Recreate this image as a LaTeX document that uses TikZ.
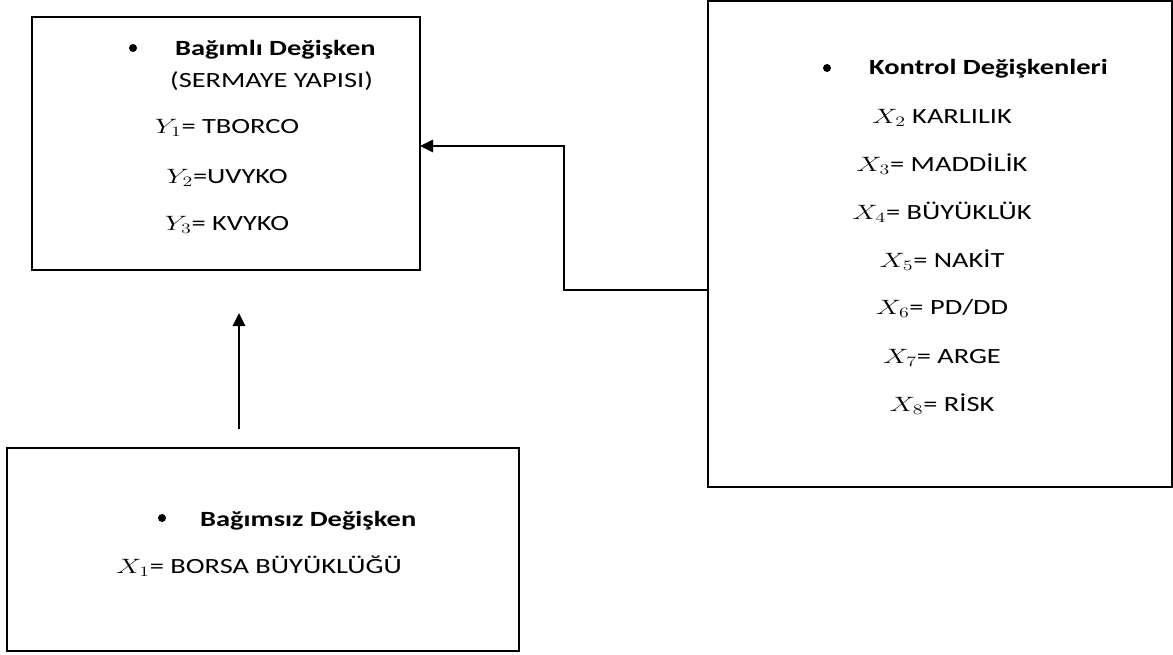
\documentclass[tikz,border=0pt]{standalone}
\usepackage{fontspec}
\setmainfont{Carlito}[FakeStretch=1.31]
\usetikzlibrary{arrows.meta}
\newcommand{\vx}[2]{\scalebox{1.38}[1]{$#1_{#2}$}}
\begin{document}
\begin{tikzpicture}[x=1pt,y=-1pt,
  font=\fontsize{21.7}{26}\selectfont,
  boxnode/.style={draw, line width=2.6pt, inner sep=0pt, outer sep=0pt},
  ctext/.style={inner sep=0pt, anchor=base},
  ltext/.style={inner sep=0pt, anchor=base west},
  bul/.style={circle, fill, inner sep=0pt, minimum size=8pt},
  conn/.style={line width=2.6pt, -{Triangle[length=13pt,width=12pt]}}]
\useasboundingbox (0,0) rectangle (1173,654);

% boxes
\node[boxnode, minimum width=388pt, minimum height=253pt] (b1) at (226,143.5) {};
\node[boxnode, minimum width=512pt, minimum height=203pt] (b2) at (263,549.5) {};
\node[boxnode, minimum width=464pt, minimum height=486pt] (b3) at (940,244) {};

% box 1 content
\node[bul] (b1bul) at (133,48) {};
\node[ltext] (b1h) at (175,55) {\bfseries Bağımlı Değişken};
\node[ltext] (b1s) at (170,87) {(SERMAYE YAPISI)};
\node[ctext] (y1) at (227,133) {\vx{Y}{1}= TBORCO};
\node[ctext] (y2) at (227,183) {\vx{Y}{2}=UVYKO};
\node[ctext] (y3) at (227,230) {\vx{Y}{3}= KVYKO};

% box 3 content
\node[bul] (b3bul) at (827,68) {};
\node[ltext] (b3h) at (869,74) {\bfseries Kontrol Değişkenleri};
\node[ctext] (x2) at (942,123) {\vx{X}{2} KARLILIK};
\node[ctext] (x3) at (942,171) {\vx{X}{3}= MADDİLİK};
\node[ctext] (x4) at (942,219) {\vx{X}{4}= BÜYÜKLÜK};
\node[ctext] (x5) at (942,267) {\vx{X}{5}= NAKİT};
\node[ctext] (x6) at (942,314) {\vx{X}{6}= PD/DD};
\node[ctext] (x7) at (942,363) {\vx{X}{7}= ARGE};
\node[ctext] (x8) at (942,411) {\vx{X}{8}= RİSK};

% box 2 content
\node[bul] (b2bul) at (162,518) {};
\node[ltext] (b2h) at (200,526) {\bfseries Bağımsız Değişken};
\node[ctext] (x1) at (259,573) {\vx{X}{1}= BORSA BÜYÜKLÜĞÜ};

% connectors
\draw[conn] (b3.west |- 0,290) -| (564,146) -- (b1.east |- 0,146);
\coordinate (a1) at (239,429);
\coordinate (a2) at (239,313);
\draw[conn] (a1) -- (a2);
\end{tikzpicture}
\end{document}
